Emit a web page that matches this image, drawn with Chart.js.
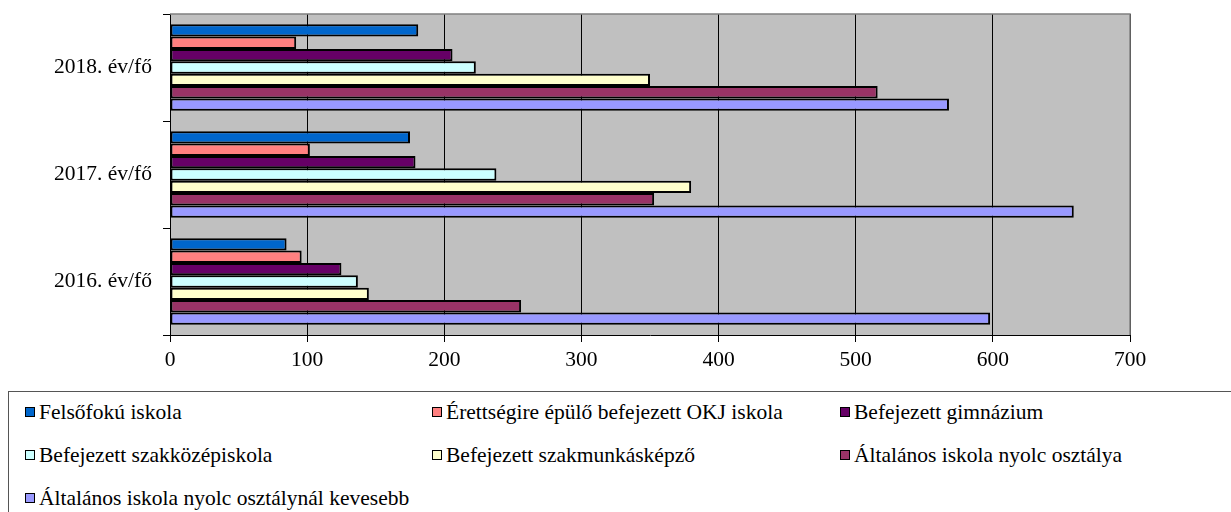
<!DOCTYPE html>
<html>
<head>
<meta charset="utf-8">
<script src="https://cdn.jsdelivr.net/npm/chart.js@4"></script>
<style>
  body { margin: 0; background: #fff; width: 1231px; height: 512px; overflow: hidden; position: relative; }
  #tarto { position: absolute; left: 0; top: 0; width: 1231px; height: 380px; }
  #jelmagyarazat {
    position: absolute; left: 8px; top: 391px; width: 1240px; height: 140px;
    border: 1px solid #555;
    font-family: "Liberation Serif", "Tinos", "Times New Roman", "DejaVu Serif", serif;
    font-size: 21.5px; color: #000;
  }
  .elem { position: absolute; display: flex; align-items: center; white-space: nowrap; height: 24px; }
  .jel { width: 8px; height: 8px; border: 1.5px solid #000; margin-right: 4px; flex: none; }
</style>
</head>
<body>
<div id="tarto"><canvas id="grafikon" width="1231" height="380"></canvas></div>
<div id="jelmagyarazat"></div>
<script>
// Kategóriák (felülről lefelé)
const kategoriak = ["2018. év/fő", "2017. év/fő", "2016. év/fő"];

// Sorozatok nevei és színei
const sorozatNevek = [
  "Felsőfokú iskola",
  "Érettségire épülő befejezett OKJ iskola",
  "Befejezett gimnázium",
  "Befejezett szakközépiskola",
  "Befejezett szakmunkásképző",
  "Általános iskola nyolc osztálya",
  "Általános iskola nyolc osztálynál kevesebb"
];
const szinek = ["#0066CC", "#FF8080", "#660066", "#CCFFFF", "#FFFFCC", "#993366", "#9999FF"];

// Értékek (2018, 2017, 2016)
const felsofoku = [181, 175, 85];
const okj = [92, 102, 96];
const gimnazium = [206, 179, 125];
const szakkozep = [223, 238, 137];
const szakmunkas = [350, 380, 145];
const altalanos8 = [516, 353, 256];
const kevesebb = [568, 659, 598];

const ertekek = [felsofoku, okj, gimnazium, szakkozep, szakmunkas, altalanos8, kevesebb];

// Tengely
const xMin = 0, xMax = 700, xLepes = 100;

const betu = { family: "'Liberation Serif', Tinos, 'Times New Roman', 'DejaVu Serif', serif", size: 21.5 };

// Szürke háttér és keret
const hatter = {
  id: "hatter",
  beforeDraw(chart) {
    const { ctx, chartArea: a } = chart;
    ctx.save();
    ctx.fillStyle = "#C0C0C0";
    ctx.fillRect(a.left, a.top, a.width, a.height);
    ctx.restore();
  },
  afterDraw(chart) {
    const { ctx, chartArea: a } = chart;
    ctx.save();
    ctx.strokeStyle = "#808080";
    ctx.lineWidth = 1.5;
    ctx.beginPath();
    ctx.moveTo(a.left, a.top);
    ctx.lineTo(a.right, a.top);
    ctx.lineTo(a.right, a.bottom);
    ctx.stroke();
    ctx.restore();
  }
};

new Chart(document.getElementById("grafikon"), {
  type: "bar",
  data: {
    labels: kategoriak,
    datasets: sorozatNevek.map((nev, i) => ({
      label: nev,
      data: ertekek[i],
      backgroundColor: szinek[i],
      borderColor: "#000",
      borderWidth: 2,
      borderSkipped: false,
      barPercentage: 1,
      categoryPercentage: 0.81
    }))
  },
  options: {
    indexAxis: "y",
    responsive: false,
    devicePixelRatio: 1,
    animation: false,
    layout: { padding: { left: 0, right: 101, top: 14, bottom: 0 } },
    plugins: { legend: { display: false }, tooltip: { enabled: false } },
    scales: {
      x: {
        min: xMin, max: xMax,
        ticks: { stepSize: xLepes, color: "#000", font: betu, padding: 5 },
        grid: { color: "#000", lineWidth: 1, tickLength: 7 },
        border: { color: "#000", width: 1 },
        afterFit(s) { s.height = 45; }
      },
      y: {
        ticks: { color: "#000", font: betu, padding: 11 },
        grid: { offset: true, drawOnChartArea: false, color: "#000", tickLength: 7 },
        border: { color: "#000", width: 1 },
        afterFit(s) { s.width = 170; s.paddingTop = 0; s.paddingBottom = 0; }
      }
    }
  },
  plugins: [hatter]
});

// Jelmagyarázat (3 oszlop)
const oszlopX = [16, 423, 831];
const sorY = [20, 63, 106];
const jm = document.getElementById("jelmagyarazat");
sorozatNevek.forEach((nev, i) => {
  const d = document.createElement("div");
  d.className = "elem";
  d.style.left = oszlopX[i % 3] + "px";
  d.style.top = (sorY[Math.floor(i / 3)] - 12) + "px";
  d.innerHTML = `<span class="jel" style="background:${szinek[i]}"></span>${nev}`;
  jm.appendChild(d);
});
</script>
</body>
</html>
